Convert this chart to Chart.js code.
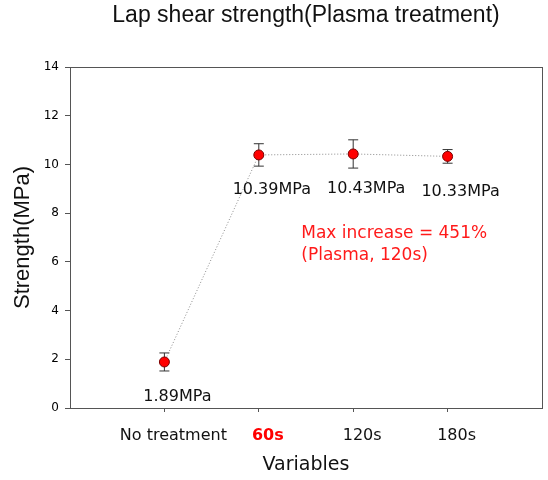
<!DOCTYPE html>
<html><head><meta charset="utf-8">
<script src="https://cdn.jsdelivr.net/npm/chart.js@4"></script>
<style>html,body{margin:0;padding:0;background:#fff}#wrap{width:548px;height:480px}</style>
</head><body><div id="wrap"><canvas id="c" width="548" height="480"></canvas></div>
<script>
const categories = ['No treatment', '60s', '120s', '180s'];
const strength = [1.89, 10.39, 10.43, 10.33];
const errors = [0.37, 0.46, 0.58, 0.28];
const valueLabels = ['1.89MPa', '10.39MPa', '10.43MPa', '10.33MPa'];
const highlighted = '60s';
const annotationLines = ['Max increase = 451%', '(Plasma, 120s)'];
const annotationX = 2.45;
const annotationY = [7.16, 6.24];

const AXIS = '#555';
const TXT = '#111';

const errorBars = {
  id: 'errorBars',
  beforeDatasetsDraw(chart) {
    const ctx = chart.ctx, ys = chart.scales.y;
    const meta = chart.getDatasetMeta(0);
    ctx.save();
    ctx.strokeStyle = '#333';
    ctx.lineWidth = 1;
    meta.data.forEach((pt, i) => {
      const t = ys.getPixelForValue(strength[i] + errors[i]);
      const b = ys.getPixelForValue(strength[i] - errors[i]);
      ctx.beginPath();
      ctx.moveTo(pt.x, t); ctx.lineTo(pt.x, b);
      ctx.moveTo(pt.x - 5, t); ctx.lineTo(pt.x + 5, t);
      ctx.moveTo(pt.x - 5, b); ctx.lineTo(pt.x + 5, b);
      ctx.stroke();
    });
    ctx.restore();
  }
};

const textLabels = {
  id: 'textLabels',
  afterDatasetsDraw(chart) {
    const ctx = chart.ctx, xs = chart.scales.x, ys = chart.scales.y;
    const meta = chart.getDatasetMeta(0);
    ctx.save();
    ctx.font = '16px "DejaVu Sans"';
    ctx.fillStyle = TXT;
    ctx.textAlign = 'center';
    ctx.textBaseline = 'middle';
    meta.data.forEach((pt, i) => {
      ctx.fillText(valueLabels[i], pt.x + 13, pt.y + 35);
    });
    ctx.font = '17px "DejaVu Sans"';
    ctx.fillStyle = '#ff1a1a';
    ctx.textAlign = 'left';
    annotationLines.forEach((t, i) => {
      ctx.fillText(t, xs.getPixelForValue(annotationX), ys.getPixelForValue(annotationY[i]));
    });
    ctx.restore();
  }
};

new Chart(document.getElementById('c'), {
  type: 'line',
  data: {
    datasets: [{
      data: strength.map((v, i) => ({ x: i + 1, y: v })),
      borderColor: '#8a8a8a',
      borderWidth: 1,
      borderDash: [1, 2],
      tension: 0,
      pointRadius: 5,
      pointBackgroundColor: '#ff0000',
      pointBorderColor: '#7a0000',
      pointBorderWidth: 1
    }]
  },
  options: {
    responsive: false,
    animation: false,
    devicePixelRatio: 1,
    layout: { padding: { left: 0, right: 6, top: 0, bottom: 0 } },
    plugins: { legend: { display: false }, tooltip: { enabled: false }, title: { display: false } },
    scales: {
      x: {
        type: 'linear', position: 'bottom', min: 0, max: 5,
        afterBuildTicks: s => { s.ticks = categories.map((_, i) => ({ value: i + 1 })); },
        afterFit: s => { s.height = 72; },
        ticks: {
          autoSkip: false, maxRotation: 0, labelOffset: 9, padding: 14,
          callback: v => categories[v - 1] ?? '',
          font: c => (c.tick && categories[c.tick.value - 1] === highlighted)
            ? { family: 'DejaVu Sans', size: 16, weight: 'bold' }
            : { family: 'DejaVu Sans', size: 16 },
          color: c => (c.tick && categories[c.tick.value - 1] === highlighted) ? '#ff0000' : TXT
        },
        grid: { drawOnChartArea: false, drawTicks: true, tickLength: 4, color: AXIS },
        border: { color: AXIS, width: 1 },
        title: { display: true, text: 'Variables', color: TXT,
          font: { family: 'DejaVu Sans', size: 19 }, padding: { top: 0, bottom: 4 } }
      },
      y: {
        type: 'linear', position: 'left', min: 0, max: 14,
        afterFit: s => { s.width = 70; },
        ticks: { stepSize: 2, padding: 6, color: '#000', font: { family: 'DejaVu Sans', size: 12 } },
        grid: { drawOnChartArea: false, drawTicks: true, tickLength: 5, color: AXIS },
        border: { color: AXIS, width: 1 },
        title: { display: true, text: 'Strength(MPa)', color: TXT,
          font: { family: 'Liberation Sans', size: 22 }, padding: { top: 10, bottom: 0 } }
      },
      x2: {
        type: 'linear', position: 'top', min: 0, max: 5,
        afterFit: s => { s.height = 67; },
        ticks: { display: false },
        grid: { display: false, drawTicks: false },
        border: { display: true, color: AXIS, width: 1 },
        title: { display: true, text: 'Lap shear strength(Plasma treatment)', color: TXT,
          font: { family: 'Liberation Sans', size: 23 }, padding: { top: 2, bottom: 0 } }
      },
      y2: {
        type: 'linear', position: 'right', min: 0, max: 14,
        afterFit: s => { s.width = 0; },
        ticks: { display: false },
        grid: { display: false, drawTicks: false },
        border: { display: true, color: AXIS, width: 1 }
      }
    }
  },
  plugins: [errorBars, textLabels]
});
</script>
</body></html>
